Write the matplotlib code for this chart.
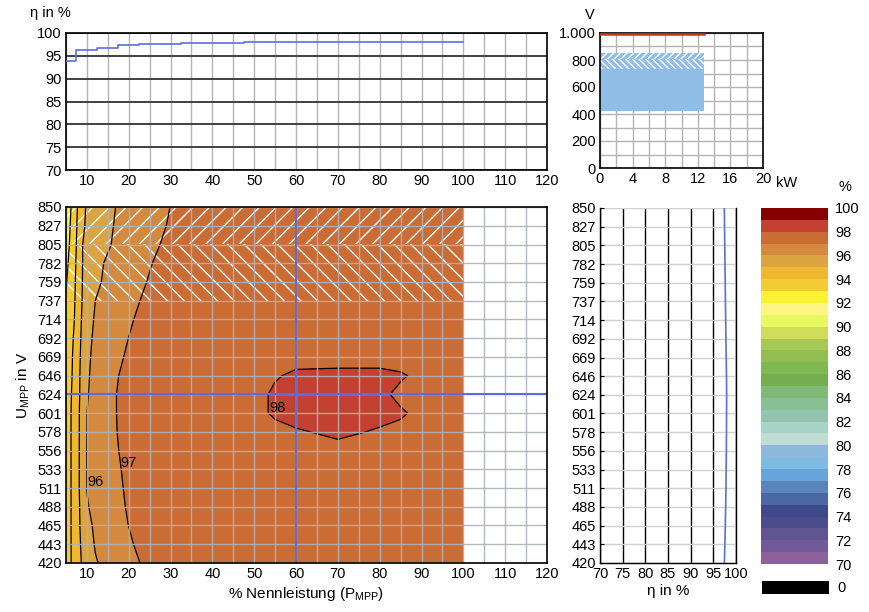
import numpy as np
import matplotlib
matplotlib.use("Agg")
import matplotlib.pyplot as plt
from matplotlib.colors import ListedColormap, BoundaryNorm
from matplotlib.ticker import MultipleLocator, FixedLocator, FuncFormatter

plt.rcParams['font.family'] = ['Liberation Sans', 'DejaVu Sans']
plt.rcParams['mathtext.default'] = 'regular'
plt.rcParams['hatch.linewidth'] = 1.0

# ---------------- data ----------------
# top-left: efficiency vs. % rated power
power_pct = [5, 10, 15, 20, 25, 30, 35, 40, 45, 50, 55, 60, 65, 70, 75, 80, 85, 90, 95, 100]
eta_vs_power = [93.9, 96.2, 96.8, 97.3, 97.5, 97.7, 97.8, 97.9, 97.9, 98.0,
                98.0, 98.0, 98.0, 98.0, 98.0, 97.95, 97.95, 97.95, 97.95, 97.95]

# MPP voltage axis (values and printed labels)
voltages = [420.0, 442.6, 465.3, 487.9, 510.5, 533.2, 555.8, 578.4, 601.1, 623.7,
            646.3, 668.9, 691.6, 714.2, 736.8, 759.5, 782.1, 804.7, 827.4, 850.0]
voltage_labels = ['420', '443', '465', '488', '511', '533', '556', '578', '601', '624',
                  '646', '669', '692', '714', '737', '759', '782', '805', '827', '850']

# efficiency map: columns = % rated power, rows = voltages (top 850 V -> bottom 420 V)
map_power = [5, 6, 7, 8, 9, 10, 12, 14, 17, 20, 23, 26, 30, 40, 50, 55, 60, 70, 80, 85, 90, 100]
eta_map_top_down = [
    [92.2, 92.87, 93.53, 94.19, 94.81, 95.09, 95.36, 95.64, 96.02, 96.25, 96.48, 96.70, 97.01, 97.3, 97.45, 97.5, 97.55, 97.6, 97.6, 97.6, 97.55, 97.5],
    [92.38, 93.0, 93.63, 94.25, 94.88, 95.12, 95.41, 95.71, 96.08, 96.31, 96.54, 96.77, 97.08, 97.35, 97.5, 97.55, 97.6, 97.65, 97.65, 97.6, 97.6, 97.55],
    [92.53, 93.12, 93.71, 94.33, 95.0, 95.16, 95.48, 95.79, 96.14, 96.39, 96.63, 96.88, 97.2, 97.4, 97.55, 97.6, 97.65, 97.7, 97.7, 97.65, 97.6, 97.6],
    [92.74, 93.26, 93.79, 94.4, 95.02, 95.22, 95.61, 96.0, 96.26, 96.52, 96.78, 97.03, 97.3, 97.45, 97.6, 97.65, 97.7, 97.7, 97.7, 97.7, 97.65, 97.6],
    [92.9, 93.38, 93.86, 94.47, 95.05, 95.29, 95.76, 96.09, 96.35, 96.62, 96.88, 97.16, 97.35, 97.5, 97.6, 97.65, 97.7, 97.75, 97.75, 97.7, 97.7, 97.65],
    [93.1, 93.51, 93.92, 94.53, 95.09, 95.39, 96.0, 96.19, 96.47, 96.75, 97.03, 97.3, 97.4, 97.5, 97.65, 97.7, 97.75, 97.75, 97.75, 97.75, 97.7, 97.65],
    [93.2, 93.6, 94.0, 94.63, 95.17, 95.58, 96.1, 96.29, 96.59, 96.88, 97.18, 97.3, 97.4, 97.55, 97.65, 97.7, 97.75, 97.8, 97.8, 97.75, 97.7, 97.7],
    [93.25, 93.67, 94.12, 94.71, 95.25, 95.75, 96.16, 96.37, 96.69, 97.01, 97.3, 97.35, 97.4, 97.55, 97.65, 97.7, 97.75, 97.8, 97.8, 97.75, 97.75, 97.7],
    [93.3, 93.74, 94.22, 94.78, 95.32, 95.84, 96.2, 96.44, 96.79, 97.14, 97.35, 97.4, 97.45, 97.55, 97.7, 97.75, 97.8, 97.85, 97.85, 97.8, 97.75, 97.7],
    [93.3, 93.77, 94.28, 94.83, 95.37, 95.89, 96.24, 96.51, 96.92, 97.32, 97.4, 97.45, 97.5, 97.6, 97.8, 97.95, 98.1, 98.1, 98.1, 98.05, 97.9, 97.8],
    [93.35, 93.85, 94.35, 94.85, 95.39, 95.94, 96.27, 96.56, 96.99, 97.41, 97.45, 97.5, 97.55, 97.65, 97.8, 98.1, 98.2, 98.2, 98.1, 97.9, 97.85, 97.8],
    [93.4, 93.9, 94.4, 94.9, 95.44, 96.0, 96.29, 96.57, 96.99, 97.4, 97.45, 97.5, 97.55, 97.65, 97.8, 98.1, 98.2, 98.2, 98.15, 98.05, 97.9, 97.8],
    [93.4, 93.9, 94.4, 94.9, 95.47, 96.01, 96.3, 96.59, 96.97, 97.38, 97.45, 97.5, 97.55, 97.6, 97.7, 97.8, 97.95, 98.1, 97.95, 97.9, 97.85, 97.8],
    [93.4, 93.9, 94.4, 94.9, 95.5, 96.03, 96.28, 96.54, 96.92, 97.31, 97.4, 97.45, 97.5, 97.55, 97.6, 97.7, 97.8, 97.85, 97.8, 97.8, 97.75, 97.7],
    [93.4, 93.9, 94.4, 94.9, 95.5, 96.02, 96.26, 96.5, 96.86, 97.21, 97.35, 97.4, 97.45, 97.5, 97.6, 97.65, 97.7, 97.75, 97.75, 97.75, 97.7, 97.7],
    [93.4, 93.9, 94.4, 94.9, 95.5, 96.02, 96.25, 96.47, 96.81, 97.15, 97.3, 97.35, 97.4, 97.5, 97.55, 97.6, 97.65, 97.7, 97.7, 97.7, 97.65, 97.6],
    [93.4, 93.9, 94.38, 94.86, 95.39, 95.94, 96.21, 96.43, 96.76, 97.09, 97.3, 97.35, 97.4, 97.5, 97.55, 97.6, 97.65, 97.7, 97.7, 97.7, 97.65, 97.6],
    [93.4, 93.9, 94.38, 94.86, 95.3, 95.74, 96.15, 96.37, 96.69, 97.01, 97.26, 97.33, 97.4, 97.45, 97.55, 97.6, 97.65, 97.7, 97.7, 97.7, 97.65, 97.6],
    [93.4, 93.9, 94.36, 94.81, 95.21, 95.55, 96.07, 96.28, 96.59, 96.87, 97.21, 97.3, 97.38, 97.45, 97.55, 97.6, 97.65, 97.7, 97.7, 97.7, 97.65, 97.6],
    [93.4, 93.9, 94.33, 94.76, 95.13, 95.39, 95.92, 96.16, 96.45, 96.74, 97.03, 97.2, 97.3, 97.4, 97.55, 97.6, 97.65, 97.7, 97.7, 97.7, 97.65, 97.6],
]

# right: efficiency vs. voltage at the selected operating point (850 V -> 420 V)
eta_vs_voltage_top_down = [97.43, 97.47, 97.52, 97.57, 97.62, 97.67, 97.72, 97.78, 97.84, 97.9,
                           97.94, 97.92, 97.9, 97.87, 97.83, 97.79, 97.72, 97.64, 97.55, 97.43]

# contour labels: (level, % power, voltage)
contour_labels = [(96, 12.0, 518), (97, 19.9, 541), (98, 55.5, 607)]
line_levels = [93, 94, 95, 96, 97, 98]

# operating window
selected_power_pct = 60
selected_voltage = 623.7
p_max_pct = 100
u_mpp_min, u_mpp_max = 420, 850
hatch_low, hatch_mid = 737, 805
p_nom_kw = 12.7
u_dc_max = 995

# colour scale 70 ... 100 %
scale_colors = [
    '#8c6098', '#725a98', '#605492', '#4a4c8c', '#3e4a8c', '#4c68a4', '#5a84bc',
    '#68a4dc', '#7ebae2', '#8cb8dc', '#c0dad6', '#a8d4c8', '#94c4ac', '#88bf94',
    '#80b878', '#74ae50', '#80b850', '#92be52', '#a8c855', '#cedd5a', '#e8f860',
    '#fdf682', '#fbf232', '#f5cb35', '#f0b830', '#dba440', '#d38a3e', '#cc6c35',
    '#c44132', '#860000']
scale_levels = list(range(70, 101))

# ---------------- figure ----------------
W, H = 869, 612
fig = plt.figure(figsize=(W / 100, H / 100), dpi=100)


def ax_px(x0, y0, x1, y1):
    return fig.add_axes([x0 / W, 1 - y1 / H, (x1 - x0) / W, (y1 - y0) / H])


FS = 10.5
GRID_GRAY = '#b4b4b4'
BLUE = '#5b6fd8'

# ---- top-left: eta vs power ----
ax1 = ax_px(66, 33, 547, 170)
ax1.plot(power_pct, eta_vs_power, drawstyle='steps-mid', color=BLUE, lw=1.2, zorder=3)
ax1.set_xlim(5, 120)
ax1.set_ylim(70, 100)
ax1.xaxis.set_major_locator(FixedLocator(list(range(10, 121, 10))))
ax1.xaxis.set_minor_locator(MultipleLocator(5))
ax1.yaxis.set_major_locator(MultipleLocator(5))
ax1.grid(True, which='both', axis='x', color=GRID_GRAY, lw=1)
ax1.grid(True, which='major', axis='y', color='#333333', lw=1.3)
ax1.tick_params(which='both', length=0, labelsize=FS, pad=3)
for s in ax1.spines.values():
    s.set_color('black')
    s.set_linewidth(1.2)
fig.text(30 / W, 1 - 13 / H, 'η in %', fontsize=FS, ha='left', va='center')

# ---- main contour map ----
cmap = ListedColormap(scale_colors)
norm = BoundaryNorm(scale_levels, cmap.N)
Z = np.array(eta_map_top_down[::-1])
V = np.array(voltages)
P = np.array(map_power)

ax = ax_px(66, 207, 547, 563)
cf = ax.contourf(P, V, Z, levels=scale_levels, cmap=cmap, norm=norm, zorder=0)
ax.contour(P, V, Z, levels=line_levels, colors='black', linewidths=0.9, zorder=2)
# derating zone hatching
ax.fill_between([P[0], p_max_pct], hatch_mid, u_mpp_max, facecolor='none',
                edgecolor='white', hatch='//', lw=0, zorder=1)
ax.fill_between([P[0], p_max_pct], hatch_low, hatch_mid, facecolor='none',
                edgecolor='white', hatch='\\\\', lw=0, zorder=1)
ax.set_xlim(5, 120)
ax.set_ylim(u_mpp_min, u_mpp_max)
ax.xaxis.set_major_locator(FixedLocator(list(range(10, 121, 10))))
ax.xaxis.set_minor_locator(MultipleLocator(5))
ax.set_yticks(voltages)
ax.set_yticklabels(voltage_labels)
ax.grid(True, which='both', color='#adb2bc', lw=1, alpha=0.9)
ax.set_axisbelow(False)
for gl in ax.get_xgridlines() + ax.get_ygridlines():
    gl.set_zorder(1.5)
ax.tick_params(which='both', length=0, labelsize=FS, pad=3)
ax.axvline(selected_power_pct, color=BLUE, lw=1.5, zorder=3)
ax.axhline(selected_voltage, color=BLUE, lw=1.5, zorder=3)
for lev, xp, yv in contour_labels:
    ax.text(xp, yv, str(lev), fontsize=FS, ha='center', va='center', zorder=4)
for s in ax.spines.values():
    s.set_color('black')
    s.set_linewidth(1.2)
    s.set_zorder(5)
ax.set_xlabel('% Nennleistung (P$_{MPP}$)', fontsize=FS + 0.5, labelpad=3)
ax.set_ylabel('U$_{MPP}$ in V', fontsize=FS + 0.5, labelpad=4)

# ---- top-right: operating window ----
ax2 = ax_px(600, 33, 763, 168)
ax2.fill_between([0, p_nom_kw], u_mpp_min, u_mpp_max, color='#8fbde6', lw=0, zorder=1)
ax2.fill_between([0, p_nom_kw], hatch_mid, u_mpp_max, facecolor='none',
                 edgecolor='white', hatch='/////', lw=0, zorder=2)
ax2.fill_between([0, p_nom_kw], hatch_low, hatch_mid, facecolor='none',
                 edgecolor='white', hatch='\\\\\\\\\\', lw=0, zorder=2)
ax2.plot([0, p_nom_kw], [u_dc_max, u_dc_max], color='#d0321e', lw=1.8, zorder=3)
ax2.set_xlim(0, 20)
ax2.set_ylim(0, 1000)
ax2.xaxis.set_major_locator(MultipleLocator(4))
ax2.xaxis.set_minor_locator(MultipleLocator(2))
ax2.yaxis.set_major_locator(MultipleLocator(200))
ax2.yaxis.set_minor_locator(MultipleLocator(100))
ax2.yaxis.set_major_formatter(FuncFormatter(lambda v, p: '1.000' if v >= 1000 else '%d' % v))
ax2.grid(True, which='both', color=GRID_GRAY, lw=1)
ax2.set_axisbelow(True)
ax2.tick_params(which='both', length=0, labelsize=FS, pad=3)
for s in ax2.spines.values():
    s.set_color('black')
    s.set_linewidth(1.2)
fig.text(590 / W, 1 - 15 / H, 'V', fontsize=FS, ha='center', va='center')
fig.text(776 / W, 1 - 183 / H, 'kW', fontsize=FS, ha='left', va='center')

# ---- right: eta vs voltage ----
ax3 = ax_px(600, 208, 736, 563)
ax3.plot(eta_vs_voltage_top_down[::-1], voltages, color=BLUE, lw=1.2, zorder=3)
ax3.set_xlim(70, 100)
ax3.set_ylim(u_mpp_min, u_mpp_max)
ax3.xaxis.set_major_locator(MultipleLocator(5))
ax3.set_yticks(voltages)
ax3.set_yticklabels(voltage_labels)
ax3.grid(True, axis='x', color='black', lw=1)
ax3.grid(True, axis='y', color='#d0d0d0', lw=1)
ax3.set_axisbelow(True)
ax3.tick_params(axis='x', length=0, labelsize=FS, pad=3)
ax3.tick_params(axis='y', direction='in', length=3, labelsize=FS, pad=3)
for s in ax3.spines.values():
    s.set_color('black')
    s.set_linewidth(1.0)
ax3.spines['top'].set_visible(False)
ax3.set_xlabel('η in %', fontsize=FS + 0.5, labelpad=2)

# ---- colour scale ----
cax = ax_px(761, 208, 828, 564)
cb = fig.colorbar(cf, cax=cax, ticks=list(range(70, 101, 2)))
cb.outline.set_visible(False)
cax.minorticks_off()
cax.tick_params(which='both', length=0, labelsize=FS, pad=5)
fig.text(845 / W, 1 - 187 / H, '%', fontsize=FS, ha='center', va='center')

zax = ax_px(762, 581, 829, 594)
zax.set_facecolor('black')
zax.set_xticks([])
zax.set_yticks([])
for s in zax.spines.values():
    s.set_visible(False)
fig.text(837 / W, 1 - 588 / H, '0', fontsize=FS, ha='left', va='center')

fig.savefig('out.png', dpi=100)
